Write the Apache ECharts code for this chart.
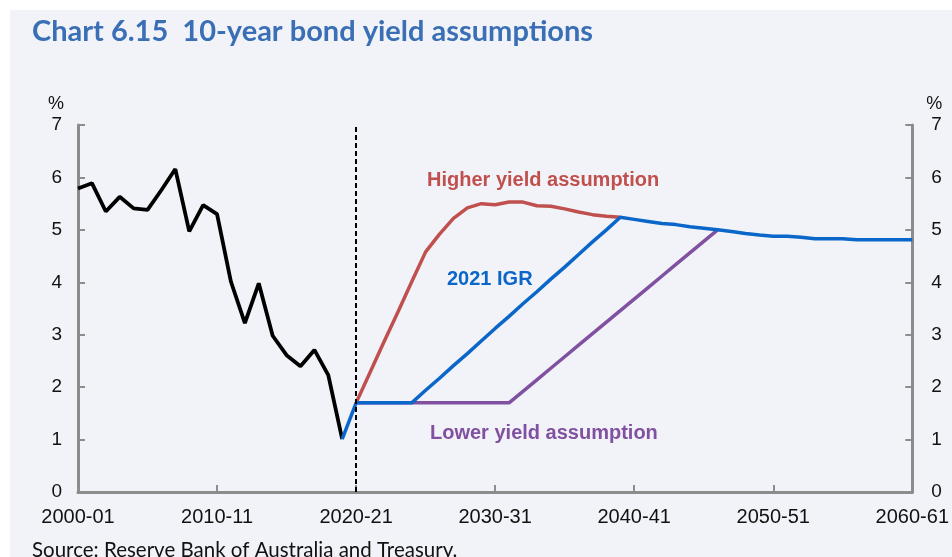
<!DOCTYPE html>
<html>
<head>
<meta charset="utf-8">
<script src="https://cdn.jsdelivr.net/npm/echarts@6/dist/echarts.min.js"></script>
<style>
  html, body { margin: 0; padding: 0; background: #ffffff; }
  #chart {
    width: 952px; height: 557px;
    background: linear-gradient(#f2f3f9, #f2f3f9) 10px 10px / 942px 547px no-repeat, #ffffff;
  }
</style>
</head>
<body>
<div id="chart"></div>
<script>
// Financial years 2000-01 .. 2060-61
const years = [];
for (let y = 2000; y <= 2060; y++) {
  years.push(y + '-' + String((y + 1) % 100).padStart(2, '0'));
}

// Historical 10-year bond yield, 2000-01 .. 2019-20 (%)
const history = [5.79, 5.89, 5.35, 5.63, 5.41, 5.38, 5.76, 6.16, 4.97, 5.47,
                 5.30, 4.01, 3.22, 3.98, 2.98, 2.61, 2.40, 2.71, 2.23, 1.01];

// 2021 IGR assumption, 2019-20 .. 2060-61 (%)
const igr = [1.01, 1.70, 1.70, 1.70, 1.70, 1.70, 1.94, 2.17, 2.41, 2.64,
             2.88, 3.12, 3.35, 3.59, 3.82, 4.06, 4.29, 4.53, 4.77, 5.00,
             5.24, 5.20, 5.16, 5.12, 5.10, 5.06, 5.03, 5.00, 4.97, 4.93,
             4.90, 4.88, 4.88, 4.86, 4.83, 4.83, 4.83, 4.81, 4.81, 4.81,
             4.81, 4.81];

// Higher yield assumption, 2020-21 .. 2039-40 (%)
const higher = [1.70, 2.28, 2.86, 3.43, 4.01, 4.58, 4.92, 5.22, 5.42, 5.50,
                5.48, 5.53, 5.53, 5.46, 5.45, 5.40, 5.34, 5.29, 5.26, 5.24];

// Lower yield assumption, 2020-21 .. 2046-47 (%)
const lower = [1.70, 1.70, 1.70, 1.70, 1.70, 1.70, 1.70, 1.70, 1.70, 1.70,
               1.70, 1.70, 1.92, 2.14, 2.36, 2.58, 2.80, 3.02, 3.24, 3.46,
               3.68, 3.90, 4.12, 4.34, 4.56, 4.78, 5.00];

const yTicks = [0, 1, 2, 3, 4, 5, 6, 7];

// place a partial series on the full year axis
function place(values, startYear) {
  const out = years.map(() => null);
  const s = years.indexOf(startYear);
  values.forEach((v, i) => { out[s + i] = v; });
  return out;
}

const axisGrey = '#8c8c8c';
const labelFont = '"Liberation Sans", Arial, sans-serif';

const chart = echarts.init(document.getElementById('chart'), null, { renderer: 'canvas' });

function yAxisDef(pos) {
  return {
    type: 'value',
    position: pos,
    min: yTicks[0],
    max: yTicks[yTicks.length - 1],
    interval: 1,
    name: '%',
    nameLocation: 'end',
    nameGap: 12,
    nameTextStyle: {
      color: '#111', fontSize: 18, fontFamily: labelFont,
      padding: pos === 'left' ? [0, 44, 0, 0] : [0, 0, 0, 44]
    },
    axisLine: { show: true, lineStyle: { color: axisGrey, width: 3 } },
    axisTick: { show: true, inside: true, length: 7, lineStyle: { color: axisGrey, width: 2 } },
    axisLabel: { color: '#111', fontSize: 19, fontFamily: labelFont, margin: pos === 'left' ? 16 : 19 },
    splitLine: { show: false }
  };
}

chart.setOption({
  backgroundColor: 'transparent',
  animation: false,
  title: [
    {
      text: 'Chart 6.15  10-year bond yield assumptions',
      left: 27, top: 12,
      textStyle: { color: '#3a6fb5', fontSize: 29, fontWeight: 'bold', fontFamily: 'Lato, "Open Sans", sans-serif' }
    },
    {
      text: 'Source: Reserve Bank of Australia and Treasury.',
      left: 27, top: 535,
      textStyle: { color: '#111', fontSize: 20.5, fontWeight: 'normal', fontFamily: 'Lato, "Open Sans", sans-serif' }
    }
  ],
  grid: { left: 78, right: 37, top: 125, bottom: 65, containLabel: false },
  xAxis: {
    type: 'category',
    data: years,
    boundaryGap: false,
    axisLine: { lineStyle: { color: axisGrey, width: 3 } },
    axisTick: { show: true, inside: true, length: 7, interval: 9, lineStyle: { color: axisGrey, width: 2 } },
    axisLabel: { interval: 9, color: '#111', fontSize: 20, fontFamily: labelFont, margin: 15 }
  },
  yAxis: [yAxisDef('left'), yAxisDef('right')],
  graphic: [
    { type: 'text', left: 427, top: 170, style: { text: 'Higher yield assumption', fill: '#c0504d', font: 'bold 20px "Liberation Sans", Arial, sans-serif' } },
    { type: 'text', left: 447, top: 269, style: { text: '2021 IGR', fill: '#0a66c8', font: 'bold 20px "Liberation Sans", Arial, sans-serif' } },
    { type: 'text', left: 430, top: 423, style: { text: 'Lower yield assumption', fill: '#8051a0', font: 'bold 20px "Liberation Sans", Arial, sans-serif' } }
  ],
  series: [
    {
      name: 'Historical', type: 'line', data: place(history, '2000-01'),
      symbol: 'none', lineStyle: { color: '#000', width: 3.8 }, z: 3,
      markLine: {
        silent: true, symbol: 'none', label: { show: false },
        lineStyle: { color: '#000', type: [5, 3], width: 2 },
        data: [{ xAxis: '2020-21' }]
      }
    },
    {
      name: 'Higher yield assumption', type: 'line', data: place(higher, '2020-21'),
      symbol: 'none', lineStyle: { color: '#c0504d', width: 3.5 }, z: 2
    },
    {
      name: 'Lower yield assumption', type: 'line', data: place(lower, '2020-21'),
      symbol: 'none', lineStyle: { color: '#8051a0', width: 3.5 }, z: 2
    },
    {
      name: '2021 IGR', type: 'line', data: place(igr, '2019-20'),
      symbol: 'none', lineStyle: { color: '#0a66c8', width: 3.5 }, z: 4
    }
  ]
});
</script>
</body>
</html>
